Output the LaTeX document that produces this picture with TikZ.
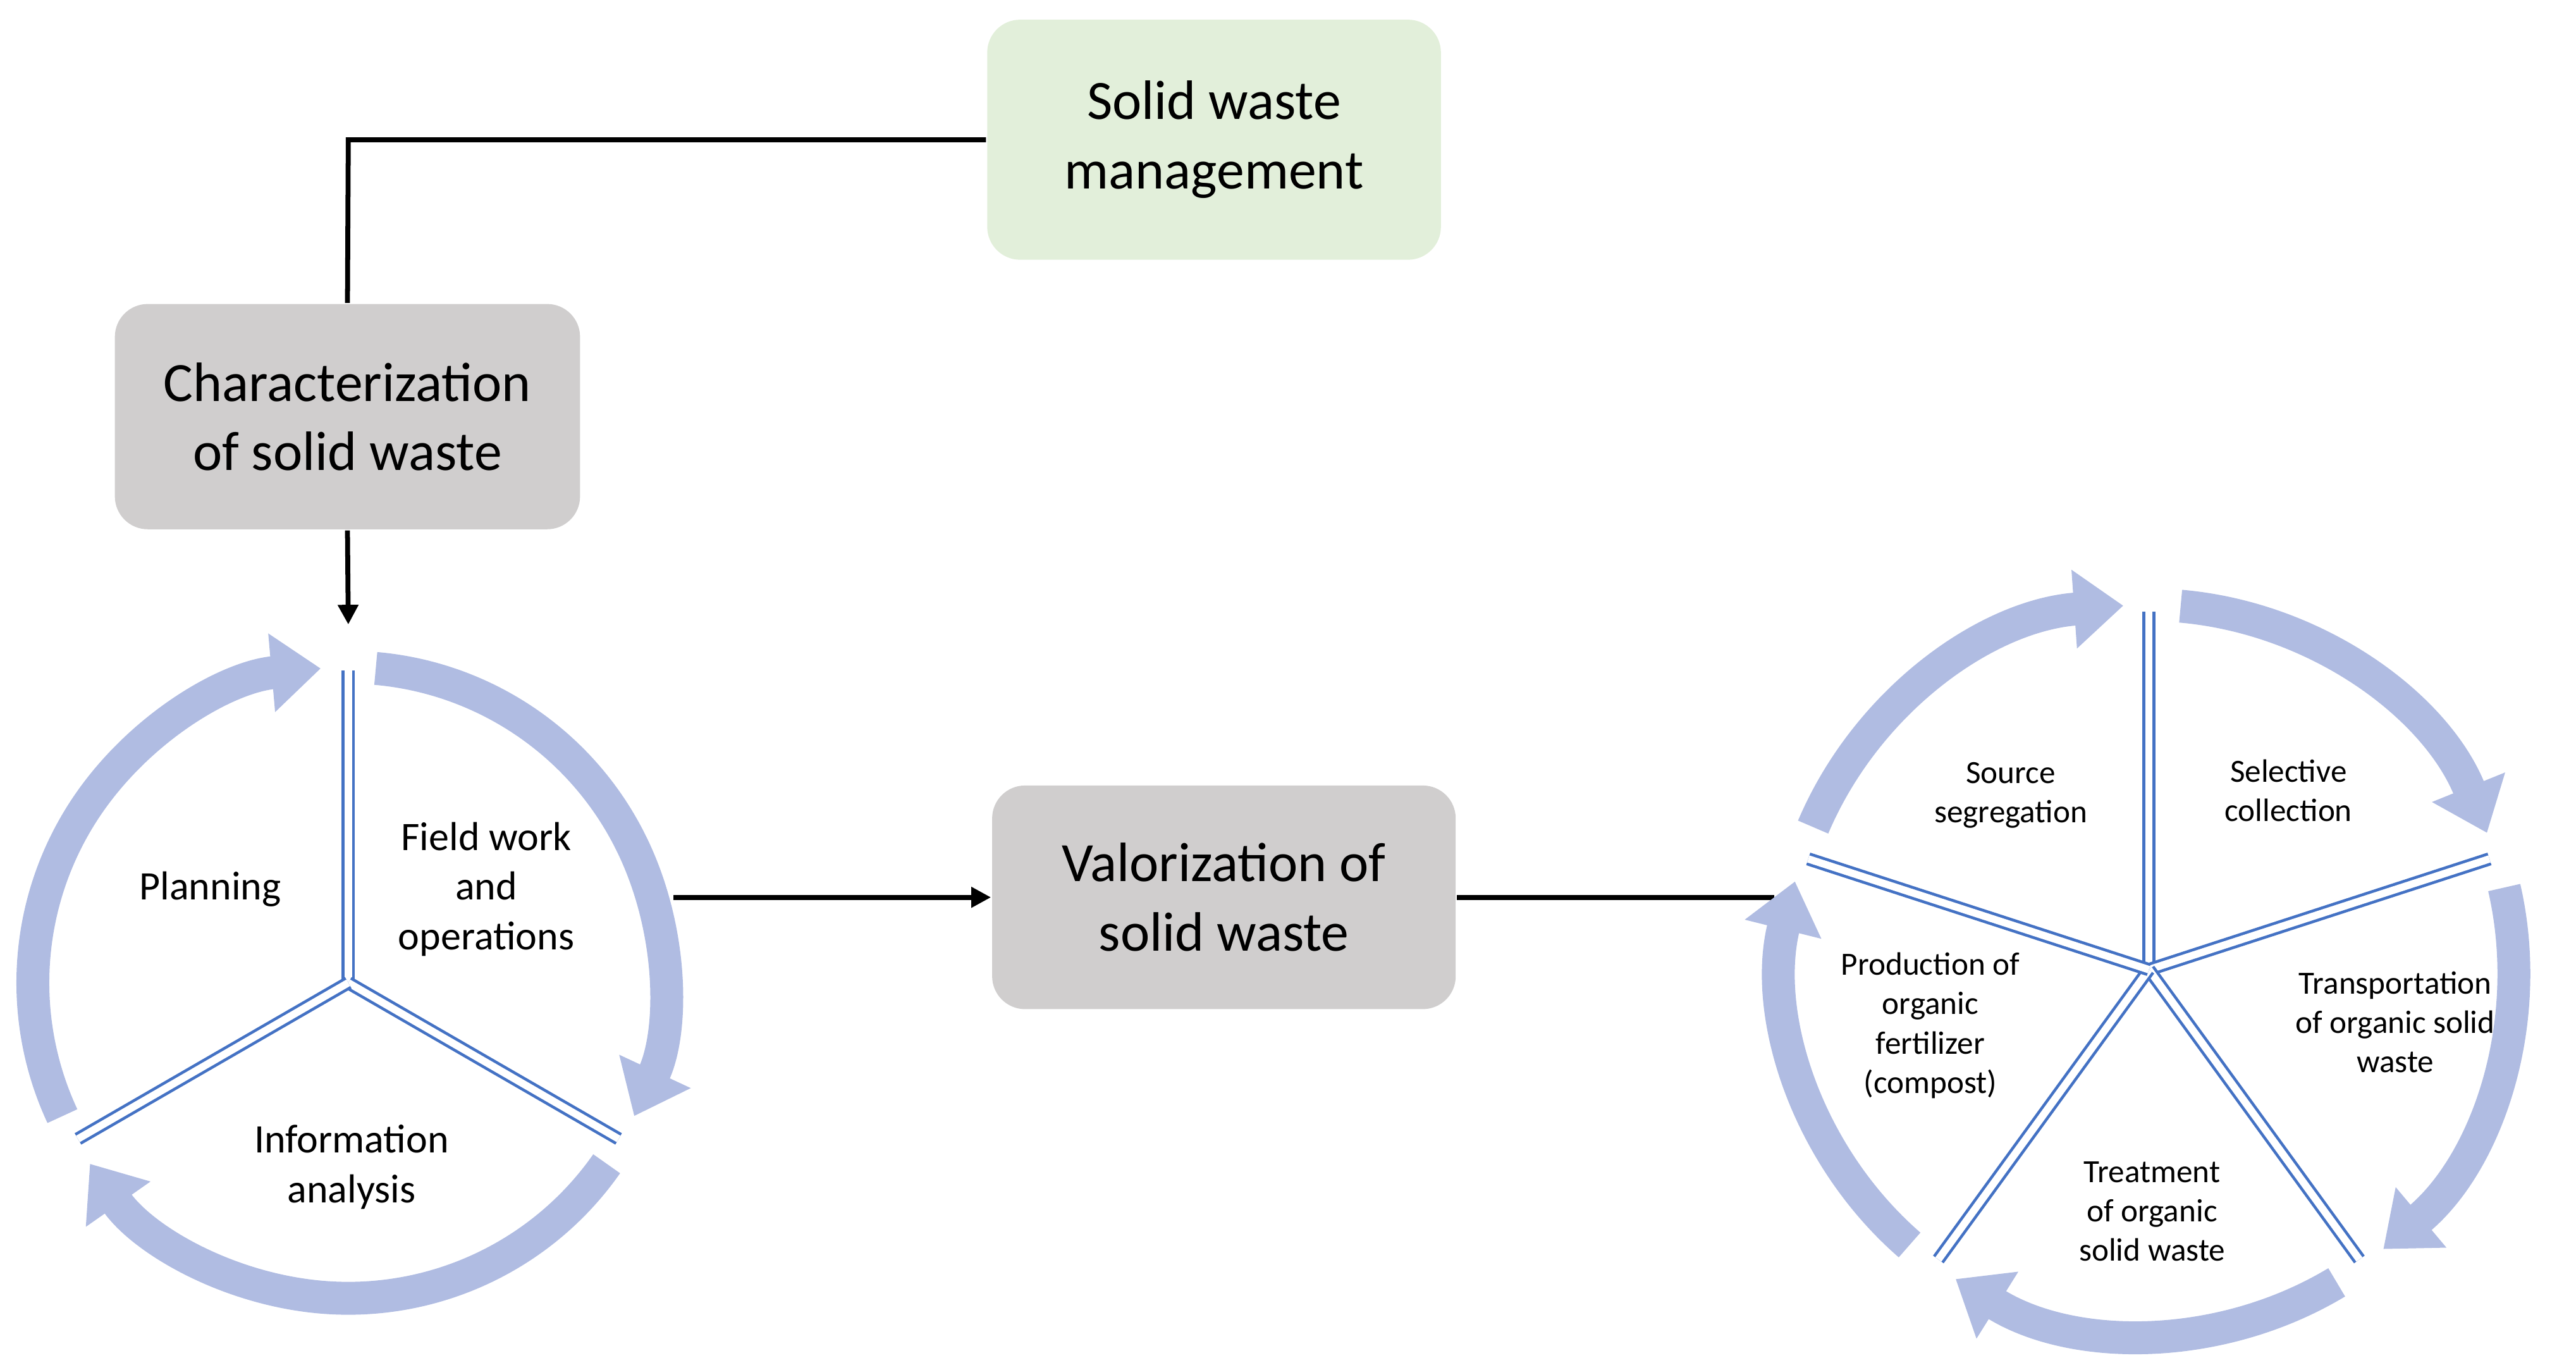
\documentclass[tikz,border=0pt]{standalone}
\usepackage{fontspec}
\setmainfont{Carlito}
\usetikzlibrary{arrows.meta}
\definecolor{ringc}{HTML}{B0BCE2}
\definecolor{divc}{HTML}{4472C4}
\definecolor{grayb}{HTML}{D0CECE}
\definecolor{greenb}{HTML}{E2EFDA}
\begin{document}
\begin{tikzpicture}[x=0.01cm,y=-0.01cm,
 box/.style={rounded corners=0.2cm,align=center,font=\fontsize{9.6pt}{12pt}\selectfont,inner sep=0pt},
 conn/.style={line width=0.85pt,black},
 ring/.style={line width=0.2cm,ringc,-{Triangle[width=0.46cm,length=0.3cm]}},
 divl/.style={draw=divc,double=white,double distance=0.045cm,line width=0.5pt},
 mid/.style={align=center,font=\fontsize{7pt}{8.6pt}\selectfont},
 small/.style={align=center,font=\fontsize{5.6pt}{6.8pt}\selectfont}]
\useasboundingbox (0,0) rectangle (1568,826);
\node[box,fill=greenb,minimum width=2.76cm,minimum height=1.46cm] (swm) at (739,85) {Solid waste\\management};
\node[box,fill=grayb,minimum width=2.83cm,minimum height=1.37cm] (char) at (211.5,253.5) {Characterization\\of solid waste};
\node[box,fill=grayb,minimum width=2.82cm,minimum height=1.36cm] (val) at (745,546) {Valorization of\\solid waste};
\coordinate (k) at (212,85);
\coordinate (a1) at (212,380);
\coordinate (l1) at (410,546);
\coordinate (r1) at (1080,546);
\draw[conn] (swm.west) -- (k) -- (char.north);
\draw[conn,-{Triangle[width=0.12cm,length=0.12cm]}] (char.south) -- (a1);
\draw[conn,-{Triangle[width=0.12cm,length=0.12cm]}] (l1) -- (val.west);
\draw[conn] (val.east) -- (r1);
% left cycle
\coordinate (C1) at (212,598);
\begin{scope}[shift={(C1)},x=0.01cm,y=0.01cm]
 \foreach \d in {90,-30,210}{
  \draw[ring] (\d-5:192) arc[start angle=\d-5,end angle=\d-115,radius=192];
  \draw[divl] (0,0) -- (\d:190);
 }
\end{scope}
\node[mid] (plan) at (128,541) {Planning};
\node[mid] (field) at (296,541) {Field work\\and\\operations};
\node[mid] (info) at (214,710) {Information\\analysis};
% right cycle
\coordinate (C2) at (1308,590);
\begin{scope}[shift={(C2)},x=0.01cm,y=0.01cm]
 \foreach \d in {90,18,-54,-126,162}{
  \draw[ring] (\d-5:222) arc[start angle=\d-5,end angle=\d-68,radius=222];
  \draw[divl] (0,0) -- (\d:218);
 }
\end{scope}
\node[small] (src) at (1224,484) {Source\\segregation};
\node[small] (sel) at (1393,481) {Selective\\collection};
\node[small] (tr) at (1458,622) {Transportation\\of organic solid\\waste};
\node[small] (trt) at (1310,737) {Treatment\\of organic\\solid waste};
\node[small] (prod) at (1175,624) {Production of\\organic\\fertilizer\\(compost)};
\end{tikzpicture}
\end{document}
